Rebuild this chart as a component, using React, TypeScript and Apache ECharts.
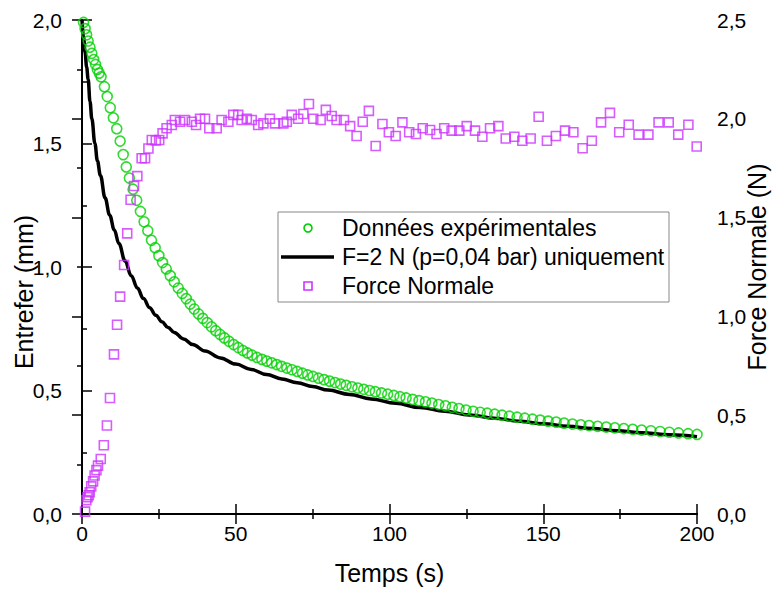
import React, { useEffect, useRef } from "react";
import * as echarts from "echarts";

const xTicks = [0, 50, 100, 150, 200];
const seriesNames = ["Données expérimentales", "F=2 N (p=0,04 bar) uniquement", "Force Normale"];

const expTime = [0.5,1.0,1.5,2.0,2.6,3.2,3.8,4.4,5.0,5.6,6.2,7.3,8.2,9.2,10.2,11.3,12.4,13.4,14.4,15.4,16.6,17.8,19.0,20.2,21.4,22.6,23.8,25.0,26.2,27.4,28.7,30.0,31.3,32.6,33.9,35.2,36.5,37.9,39.3,40.7,42.1,43.5,44.9,46.3,47.8,49.3,50.8,52.3,53.8,55.3,56.9,58.5,60.1,61.7,63.3,64.9,66.6,68.3,70.0,71.7,73.4,75.1,76.9,78.7,80.5,82.3,84.1,85.9,87.8,89.7,91.6,93.5,95.4,97.4,99.4,101.4,103.4,105.4,107.5,109.6,111.7,113.8,116.0,118.2,120.4,122.6,124.9,127.2,129.5,131.8,134.2,136.6,139.0,141.5,144.0,146.5,149.0,151.6,154.2,156.8,159.5,162.2,164.9,167.7,170.5,173.3,176.2,179.1,182.0,185.0,188.0,191.0,194.0,197.1,200.0];
const expValue = [1.99,1.965,1.94,1.915,1.89,1.865,1.84,1.82,1.80,1.785,1.77,1.73,1.69,1.645,1.604,1.56,1.51,1.455,1.405,1.36,1.315,1.27,1.225,1.183,1.147,1.108,1.078,1.046,1.018,0.992,0.965,0.94,0.915,0.893,0.872,0.85,0.83,0.81,0.792,0.775,0.758,0.742,0.727,0.713,0.699,0.686,0.674,0.662,0.652,0.643,0.634,0.626,0.619,0.612,0.605,0.598,0.591,0.584,0.577,0.57,0.563,0.557,0.55,0.544,0.538,0.532,0.526,0.521,0.515,0.51,0.505,0.5,0.495,0.49,0.485,0.48,0.475,0.47,0.464,0.459,0.454,0.449,0.443,0.438,0.432,0.427,0.421,0.416,0.412,0.408,0.404,0.4,0.396,0.392,0.388,0.384,0.38,0.376,0.372,0.368,0.364,0.361,0.358,0.355,0.352,0.349,0.346,0.343,0.34,0.337,0.334,0.331,0.328,0.325,0.322];

const modelTime = [0,0.5,1,1.5,2,2.6,3.2,4.2,5,6,7.5,9,10.5,12,14,16,18,20,22,24,26,28,30,33,36,40,45,50,55,60,65,70,75,80,87,94,102,110,118,126,134,142,150,158,166,174,182,191,200];
const modelValue = [2.0,1.93,1.87,1.81,1.76,1.67,1.6,1.5,1.43,1.37,1.28,1.21,1.15,1.095,1.025,0.965,0.915,0.872,0.835,0.805,0.778,0.755,0.735,0.709,0.686,0.66,0.632,0.607,0.585,0.565,0.547,0.531,0.516,0.502,0.484,0.466,0.448,0.431,0.416,0.401,0.388,0.376,0.365,0.355,0.346,0.337,0.329,0.321,0.313];

const forceTime = [1.0,1.4,1.8,2.2,2.5,3.0,3.6,4.1,4.7,5.2,6.1,7.1,8.1,9.1,10.4,11.4,12.4,13.7,14.7,15.8,16.9,18.0,19.4,20.5,21.6,22.7,24.0,25.1,26.2,27.5,29.2,30.2,31.9,33.5,35.7,37.1,38.4,40.0,41.4,43.8,45.4,47.6,49.2,50.8,51.9,53.6,55.2,57.3,59.0,61.1,62.8,65.5,66.6,68.2,70.3,72.0,73.8,75.2,77.6,79.3,81.2,82.8,85.2,87.2,89.3,91.3,93.3,95.5,97.7,99.8,102.0,104.2,106.4,108.6,110.8,113.2,115.3,117.8,120.2,122.7,125.1,127.8,130.2,132.7,135.4,137.8,140.6,143.2,145.9,148.5,151.2,154.1,157.1,159.8,162.8,165.8,168.8,171.7,174.7,177.8,181.0,184.2,187.5,190.8,193.9,197.2,199.9];
const forceValue = [0.012,0.07,0.085,0.095,0.11,0.14,0.165,0.195,0.222,0.245,0.278,0.348,0.448,0.587,0.808,0.958,1.10,1.26,1.42,1.59,1.66,1.71,1.80,1.80,1.85,1.893,1.89,1.893,1.926,1.952,1.969,1.994,1.985,1.994,1.985,1.969,2.0,2.0,1.952,1.952,1.994,1.985,2.02,2.02,1.994,2.0,1.994,1.969,1.977,2.0,1.977,1.977,1.985,2.02,2.0,2.024,2.075,2.0,1.994,2.045,2.014,1.994,1.994,1.963,1.913,1.985,2.04,1.862,1.974,1.932,1.913,1.982,1.932,1.923,1.952,1.943,1.923,1.952,1.94,1.94,1.963,1.94,1.909,1.952,1.963,1.9,1.909,1.889,1.9,2.01,1.889,1.913,1.94,1.932,1.851,1.889,1.982,2.03,1.932,1.97,1.92,1.92,1.982,1.982,1.92,1.97,1.86];

const GREEN = "#00d000";
const PURPLE = "#cc33ff";
const FONT = "'Liberation Sans', Arial, sans-serif";

const fmt = (v: number) => v.toFixed(1).replace(".", ",");

const baseAxis = {
  axisLine: { show: true, lineStyle: { color: "#000", width: 2 } },
  axisTick: { show: true, inside: true, length: 10, lineStyle: { color: "#000", width: 1.5 } },
  minorTick: { show: true, splitNumber: 2, length: 5, lineStyle: { color: "#000", width: 1.5 } },
  splitLine: { show: false },
  minorSplitLine: { show: false },
  nameMoveOverlap: false,
};

export default function App() {
  const ref = useRef<HTMLDivElement>(null);
  useEffect(() => {
    if (!ref.current) return;
    const chart = echarts.init(ref.current, undefined, { renderer: "svg" });
    const zip = (a: number[], b: number[]) => a.map((t, i) => [t, b[i]]);
    chart.setOption({
      animation: false,
      textStyle: { fontFamily: FONT },
      grid: { left: 82, right: 77, top: 20, bottom: 76, outerBoundsMode: "none", containLabel: false },
      xAxis: [
        {
          ...baseAxis,
          type: "value", position: "bottom", min: xTicks[0], max: xTicks[xTicks.length - 1], interval: 50,
          axisLabel: { fontSize: 21, color: "#000", margin: 9, fontFamily: FONT },
          name: "Temps (s)", nameLocation: "middle", nameGap: 46,
          nameTextStyle: { fontSize: 25, color: "#000", fontFamily: FONT },
        },
        {
          ...baseAxis,
          type: "value", position: "top", min: 0, max: 200, interval: 50,
          axisLabel: { show: false },
        },
      ],
      yAxis: [
        {
          ...baseAxis,
          type: "value", position: "left", min: 0, max: 2, interval: 0.5,
          axisLabel: { fontSize: 21, color: "#000", margin: 20, formatter: fmt, fontFamily: FONT },
          name: "Entrefer (mm)", nameLocation: "middle", nameGap: 46, nameRotate: 90,
          nameTextStyle: { fontSize: 25, color: "#000", fontFamily: FONT, padding: [0, 50, 0, 0] },
        },
        {
          ...baseAxis,
          type: "value", position: "right", min: 0, max: 2.5, interval: 0.5,
          axisLabel: { fontSize: 21, color: "#000", margin: 20, formatter: fmt, fontFamily: FONT },
          name: "Force Normale (N)", nameLocation: "middle", nameGap: 47, nameRotate: 90,
          nameTextStyle: { fontSize: 25, color: "#000", fontFamily: FONT },
        },
      ],
      series: [
        {
          name: seriesNames[1], type: "line", xAxisIndex: 0, yAxisIndex: 0,
          data: zip(modelTime, modelValue), symbol: "none", smooth: 0.4, smoothMonotone: "x",
          lineStyle: { color: "#000", width: 3.5 }, z: 2,
        },
        {
          name: seriesNames[0], type: "scatter", xAxisIndex: 0, yAxisIndex: 0,
          data: zip(expTime, expValue), symbol: "circle", symbolSize: 10,
          itemStyle: { color: "rgba(0,0,0,0)", borderColor: GREEN, borderWidth: 1.6 }, z: 3,
        },
        {
          name: seriesNames[2], type: "scatter", xAxisIndex: 0, yAxisIndex: 1,
          data: zip(forceTime, forceValue), symbol: "rect", symbolSize: 9,
          itemStyle: { color: "rgba(0,0,0,0)", borderColor: PURPLE, borderWidth: 1.6 }, z: 4,
        },
      ],
      graphic: [
        { type: "rect", z: 100, shape: { x: 278, y: 212, width: 391, height: 90 }, style: { fill: "#fff", stroke: "#888", lineWidth: 1 } },
        { type: "circle", z: 101, shape: { cx: 308, cy: 228, r: 4 }, style: { fill: "none", stroke: GREEN, lineWidth: 1.6 } },
        { type: "line", z: 101, shape: { x1: 281, y1: 257, x2: 334, y2: 257 }, style: { stroke: "#000", lineWidth: 3.5 } },
        { type: "rect", z: 101, shape: { x: 304, y: 282, width: 8, height: 8 }, style: { fill: "none", stroke: PURPLE, lineWidth: 1.6 } },
        { type: "text", z: 101, x: 342, y: 228, style: { text: seriesNames[0], font: `23px ${FONT}`, fill: "#000", verticalAlign: "middle" } },
        { type: "text", z: 101, x: 342, y: 257, style: { text: seriesNames[1], font: `23px ${FONT}`, fill: "#000", verticalAlign: "middle" } },
        { type: "text", z: 101, x: 342, y: 286, style: { text: seriesNames[2], font: `23px ${FONT}`, fill: "#000", verticalAlign: "middle" } },
      ],
    });
    return () => chart.dispose();
  }, []);
  return <div ref={ref} style={{ position: "absolute", left: 0, top: 0, width: 774, height: 590 }} />;
}
